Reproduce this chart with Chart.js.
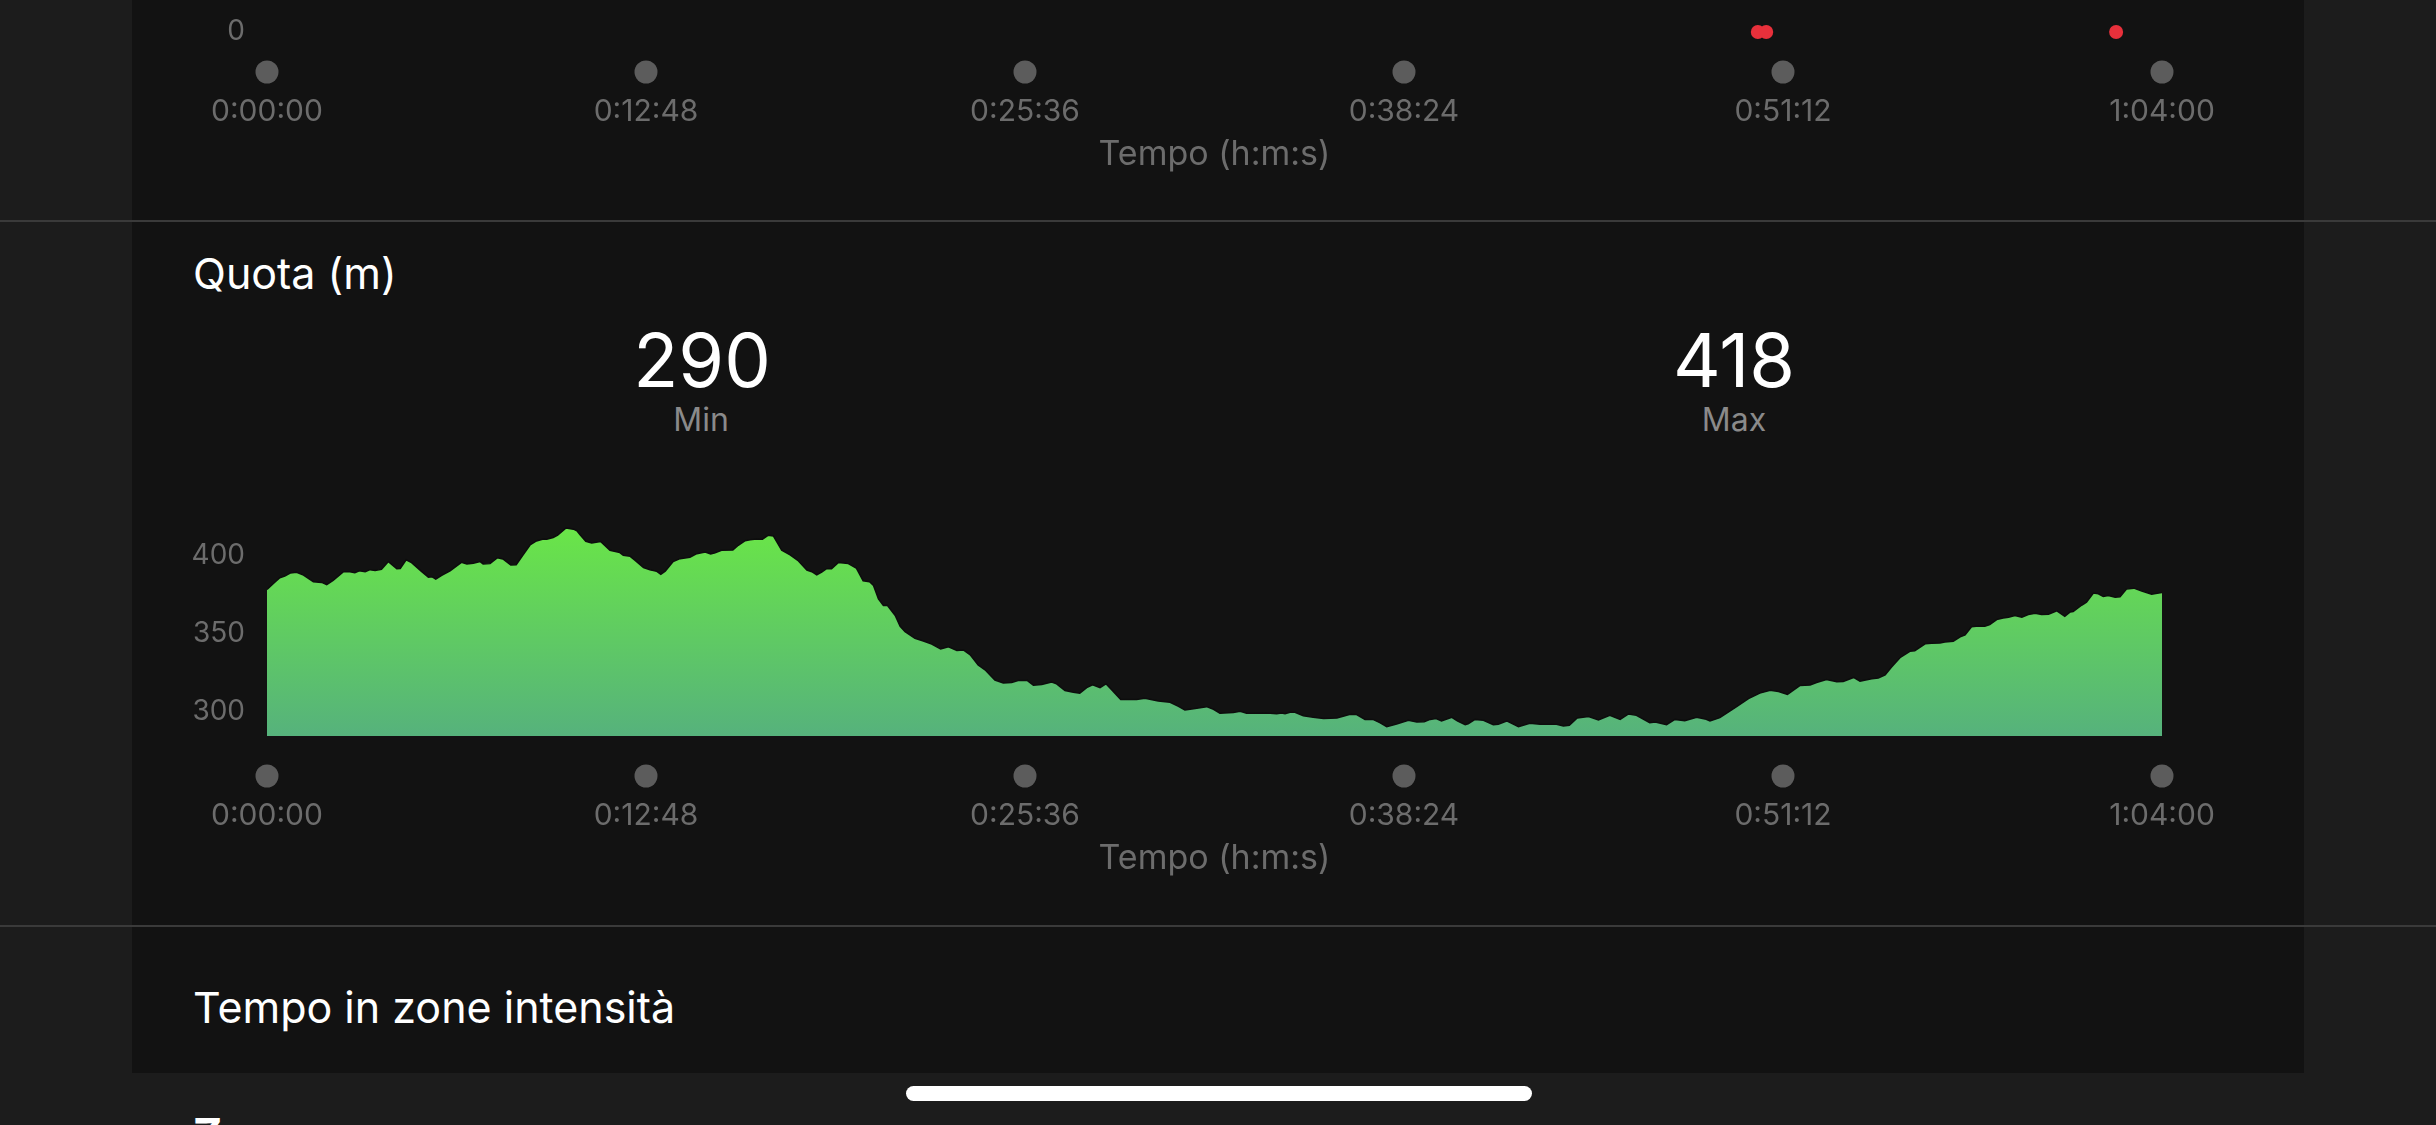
<!DOCTYPE html>
<html lang="it">
<head>
<meta charset="utf-8">
<title>Quota (m)</title>
<script src="https://cdn.jsdelivr.net/npm/chart.js@4.4.1/dist/chart.umd.min.js"></script>
<style>
    html, body {
        margin: 0;
        padding: 0;
    }
    body {
        width: 2436px;
        height: 1125px;
        overflow: hidden;
        position: relative;
        background: #1c1c1c;
        font-family: 'Inter', 'Roboto', sans-serif;
    }
    .card {
        position: absolute;
        left: 132px;
        top: 0;
        width: 2172px;
        height: 1073px;
        background: #121212;
    }
    .sep {
        position: absolute;
        left: 0;
        width: 2436px;
        height: 2px;
        background: #3a3a3a;
    }
    .txt {
        position: absolute;
        line-height: 1;
        white-space: nowrap;
    }
    .heading {
        font-size: 43px;
        color: #ffffff;
    }
    .stat {
        width: 300px;
        text-align: center;
    }
    .stat-value {
        font-size: 74px;
        color: #ffffff;
    }
    .stat-label {
        font-size: 32px;
        color: #8a8a8a;
    }
    .chart-box {
        position: absolute;
        left: 132px;
        width: 2172px;
    }
    .home-bar {
        position: absolute;
        left: 906px;
        top: 1086px;
        width: 626px;
        height: 15px;
        border-radius: 8px;
        background: #ffffff;
    }
</style>
</head>
<body>
    <div class="card"></div>

    <!-- previous chart, only its time axis is on screen -->
    <div class="chart-box" style="top: -200px; height: 392px;">
        <canvas id="zoneChart"></canvas>
    </div>
    <div class="sep" style="top: 220px;"></div>

    <div class="txt heading" style="left: 193px; top: 252px;">Quota (m)</div>
    <div class="txt stat stat-value" style="left: 552px; top: 323px;">290</div>
    <div class="txt stat stat-label" style="left: 551px; top: 404px;">Min</div>
    <div class="txt stat stat-value" style="left: 1584px; top: 323px;">418</div>
    <div class="txt stat stat-label" style="left: 1584px; top: 404px;">Max</div>

    <div class="chart-box" style="top: 486px; height: 410px;">
        <canvas id="quotaChart"></canvas>
    </div>
    <div class="sep" style="top: 925px;"></div>

    <div class="txt heading" style="left: 193px; top: 986px;">Tempo in zone intensità</div>
    <div class="txt heading" style="left: 193px; top: 1112px; font-size: 44px; font-weight: 700;">Zone</div>
    <div class="home-bar"></div>

<script>
// Time axis (seconds) shared by both charts
const timeTicks = [0, 768, 1536, 2304, 3072, 3840];
const timeLabels = ['0:00:00', '0:12:48', '0:25:36', '0:38:24', '0:51:12', '1:04:00'];

// Elevation profile: time (s) and altitude (m)
const elevTime = [
    0, 13, 26, 36, 47, 60, 74, 94, 111, 121, 134, 155, 168, 178, 187, 199, 209, 219, 232, 246,
    263, 270, 282, 293, 313, 327, 334, 342, 354, 371, 394, 405, 418, 432, 438, 452, 467, 478, 494, 505,
    519, 533, 546, 560, 567, 580, 589, 606, 621, 628,
    634, 646, 658, 676, 695, 715, 722, 736, 746, 763, 776, 790, 798, 807, 823, 837, 857, 871, 888, 899,
    908, 921, 944, 955, 969, 979, 992, 1004, 1016, 1026, 1043, 1060, 1077, 1094, 1104, 1114, 1124, 1134, 1144, 1158,
    1178, 1194, 1208, 1221, 1229, 1239, 1249, 1257, 1273,
    1283, 1293, 1313, 1330, 1347, 1365, 1381, 1398, 1411, 1425, 1441, 1455, 1475, 1492, 1509, 1522, 1541, 1553, 1570, 1590,
    1600, 1617, 1634, 1647, 1661, 1673, 1688, 1700, 1712, 1730, 1762, 1779, 1806, 1830, 1847, 1860, 1874, 1904, 1918,
    1931, 1958, 1972, 1985, 1999, 2026, 2046, 2056, 2063, 2073, 2083, 2100, 2120, 2141, 2168, 2195, 2208, 2225, 2241, 2255,
    2269, 2289, 2313, 2330, 2345, 2357, 2369, 2380, 2401, 2412, 2428, 2434, 2448, 2465, 2485, 2495, 2512, 2536, 2559,
    2580, 2613, 2627, 2639, 2655, 2678, 2698, 2721, 2742, 2759, 2775, 2802, 2813, 2836, 2853, 2873, 2897, 2914, 2924, 2944,
    2961, 2978, 3002, 3025, 3046, 3063, 3081, 3106, 3127, 3140, 3160, 3181, 3194, 3215,
    3228, 3242, 3252, 3265, 3279, 3292, 3309, 3329, 3339, 3360, 3373, 3390, 3400, 3417, 3431, 3441, 3454, 3468, 3481, 3491,
    3505, 3518, 3529, 3542, 3556, 3569, 3583, 3596, 3610, 3627, 3643, 3654, 3660, 3677, 3687, 3701, 3711, 3721, 3731, 3745,
    3755, 3768, 3783, 3799, 3819, 3833, 3840
];
const elevMeters = [
    378.4, 382.2, 385.9, 387.0, 388.9, 389.4, 387.6, 383.3, 382.9, 381.4, 384.2, 389.8, 389.8, 389.1, 390.4, 389.8, 391.1, 390.6, 391.3, 396.3,
    391.7, 391.9, 397.5, 395.6, 390.0, 386.3, 386.6, 385.0, 387.4, 390.4, 395.8, 394.7, 395.2, 396.3, 394.7, 395.0, 398.8, 398.0, 394.1, 394.3,
    400.6, 407.0, 409.6, 410.9, 410.7, 411.8, 413.3, 418.0, 417.2, 416.1,
    413.7, 409.4, 408.3, 409.2, 403.6, 402.1, 400.3, 399.7, 397.1, 392.4, 391.1, 390.0, 388.1, 390.2, 396.3, 398.2, 399.1, 401.4, 402.5, 401.2,
    401.9, 403.6, 403.8, 406.8, 409.8, 410.3, 410.9, 410.7, 413.3, 412.8, 403.6, 400.6, 396.7, 390.9, 389.8, 387.8, 389.6, 391.7, 391.7, 395.8,
    395.0, 392.2, 384.0, 383.3, 380.9, 372.3, 368.0, 368.2, 361.6,
    354.7, 351.2, 346.9, 345.2, 343.2, 340.0, 341.5, 339.1, 339.4, 336.3, 329.7, 326.6, 320.0, 318.2, 318.4, 319.7, 319.7, 316.7, 317.2, 318.7,
    317.6, 313.3, 312.2, 311.6, 315.2, 316.9, 315.2, 317.6, 313.7, 307.5, 307.5, 308.3, 306.6, 305.7, 303.1, 300.8, 301.4, 302.9, 301.2,
    298.6, 299.1, 299.9, 298.6, 298.6, 298.8, 298.4, 298.8, 298.4, 299.3, 299.3, 297.1, 296.0, 295.2, 295.6, 298.0, 297.8, 294.7, 294.7, 292.6,
    290.0, 291.7, 294.1, 293.0, 293.2, 294.7, 295.2, 293.7, 296.0, 293.7, 291.3, 291.9, 294.7, 294.1, 291.3, 291.5, 293.7, 290.0, 292.2,
    291.5, 291.5, 290.4, 290.9, 295.6, 296.5, 294.3, 297.3, 294.7, 298.2, 297.3, 292.6, 293.0, 291.3, 294.7, 293.9, 296.0, 295.0, 293.7, 295.8,
    299.3, 302.9, 308.1, 311.6, 313.5, 312.6, 310.7, 316.5, 316.9, 318.4, 320.4, 318.9, 319.1, 321.7,
    319.3, 320.2, 320.8, 321.3, 323.4, 328.4, 334.4, 338.5, 338.9, 343.4, 343.7, 343.9, 344.5, 345.0, 347.8, 349.1, 354.4, 354.9, 354.7, 355.7,
    359.0, 360.0, 360.5, 361.6, 360.5, 362.2, 363.1, 362.2, 362.4, 364.6, 361.1, 363.9, 364.1, 368.2, 370.2, 376.0, 375.6, 373.8, 374.5, 373.4,
    373.6, 378.6, 379.2, 377.3, 375.3, 376.0, 376.4
];
const elevTicks = [300, 350, 400];

// Red markers of the chart above (value 0)
const zoneTime = [3021, 3038, 3747];
const zoneValues = [0, 0, 0];
const zoneTicks = [0];

const axisGrey = '#6c6c6c';
Chart.defaults.font.family = "'Inter', 'Roboto', sans-serif";
Chart.defaults.color = axisGrey;

// grey dots under every time tick
const tickDots = {
    id: 'tickDots',
    afterDraw(chart) {
        const xs = chart.scales.x;
        const ctx = chart.ctx;
        ctx.save();
        ctx.fillStyle = '#5c5c5c';
        xs.ticks.forEach(t => {
            ctx.beginPath();
            ctx.arc(xs.getPixelForValue(t.value), xs.top + 40, 11.5, 0, Math.PI * 2);
            ctx.fill();
        });
        ctx.restore();
    }
};

function timeAxis() {
    return {
        type: 'linear',
        min: 0,
        max: 3840,
        afterBuildTicks: s => { s.ticks = timeTicks.map(v => ({ value: v })); },
        afterFit: s => { s.height = 160; },
        grid: { display: false, drawTicks: false },
        border: { display: false },
        ticks: {
            autoSkip: false,
            maxRotation: 0,
            padding: 62,
            color: axisGrey,
            font: { size: 30 },
            callback: (v, i) => timeLabels[i]
        },
        title: {
            display: true,
            text: 'Tempo (h:m:s)',
            color: axisGrey,
            font: { size: 34 },
            padding: { top: 0, bottom: 17 }
        }
    };
}

function valueAxis(min, max, ticks) {
    return {
        min: min,
        max: max,
        afterBuildTicks: s => { s.ticks = ticks.map(v => ({ value: v })); },
        afterFit: s => { s.width = 135; },
        grid: { display: false, drawTicks: false },
        border: { display: false },
        ticks: {
            padding: 22,
            color: axisGrey,
            font: { size: 28 }
        }
    };
}

// Zone chart (only the bottom part is visible)
new Chart(document.getElementById('zoneChart'), {
    type: 'scatter',
    data: {
        datasets: [{
            data: zoneTime.map((t, i) => ({ x: t, y: zoneValues[i] })),
            backgroundColor: '#e8303b',
            borderWidth: 0,
            pointRadius: 7,
            clip: false
        }]
    },
    options: {
        responsive: true,
        maintainAspectRatio: false,
        animation: false,
        layout: { padding: { top: 20, right: 142, left: 0, bottom: 0 } },
        plugins: { legend: { display: false }, tooltip: { enabled: false } },
        scales: {
            x: timeAxis(),
            y: valueAxis(0, 100, zoneTicks)
        }
    },
    plugins: [tickDots]
});

// Elevation chart
new Chart(document.getElementById('quotaChart'), {
    type: 'line',
    data: {
        datasets: [{
            data: elevTime.map((t, i) => ({ x: t, y: elevMeters[i] })),
            fill: 'start',
            borderColor: '#0d0d0d',
            borderWidth: 1.5,
            pointRadius: 0,
            tension: 0,
            backgroundColor: context => {
                const { ctx, chartArea } = context.chart;
                if (!chartArea) return '#62d352';
                const g = ctx.createLinearGradient(0, chartArea.top, 0, chartArea.bottom);
                g.addColorStop(0, '#6ae647');
                g.addColorStop(1, '#56b27c');
                return g;
            }
        }]
    },
    options: {
        responsive: true,
        maintainAspectRatio: false,
        animation: false,
        layout: { padding: { top: 0, right: 142, left: 0, bottom: 0 } },
        plugins: { legend: { display: false }, tooltip: { enabled: false } },
        scales: {
            x: timeAxis(),
            y: valueAxis(284, 420, elevTicks)
        }
    },
    plugins: [tickDots]
});
</script>
</body>
</html>
